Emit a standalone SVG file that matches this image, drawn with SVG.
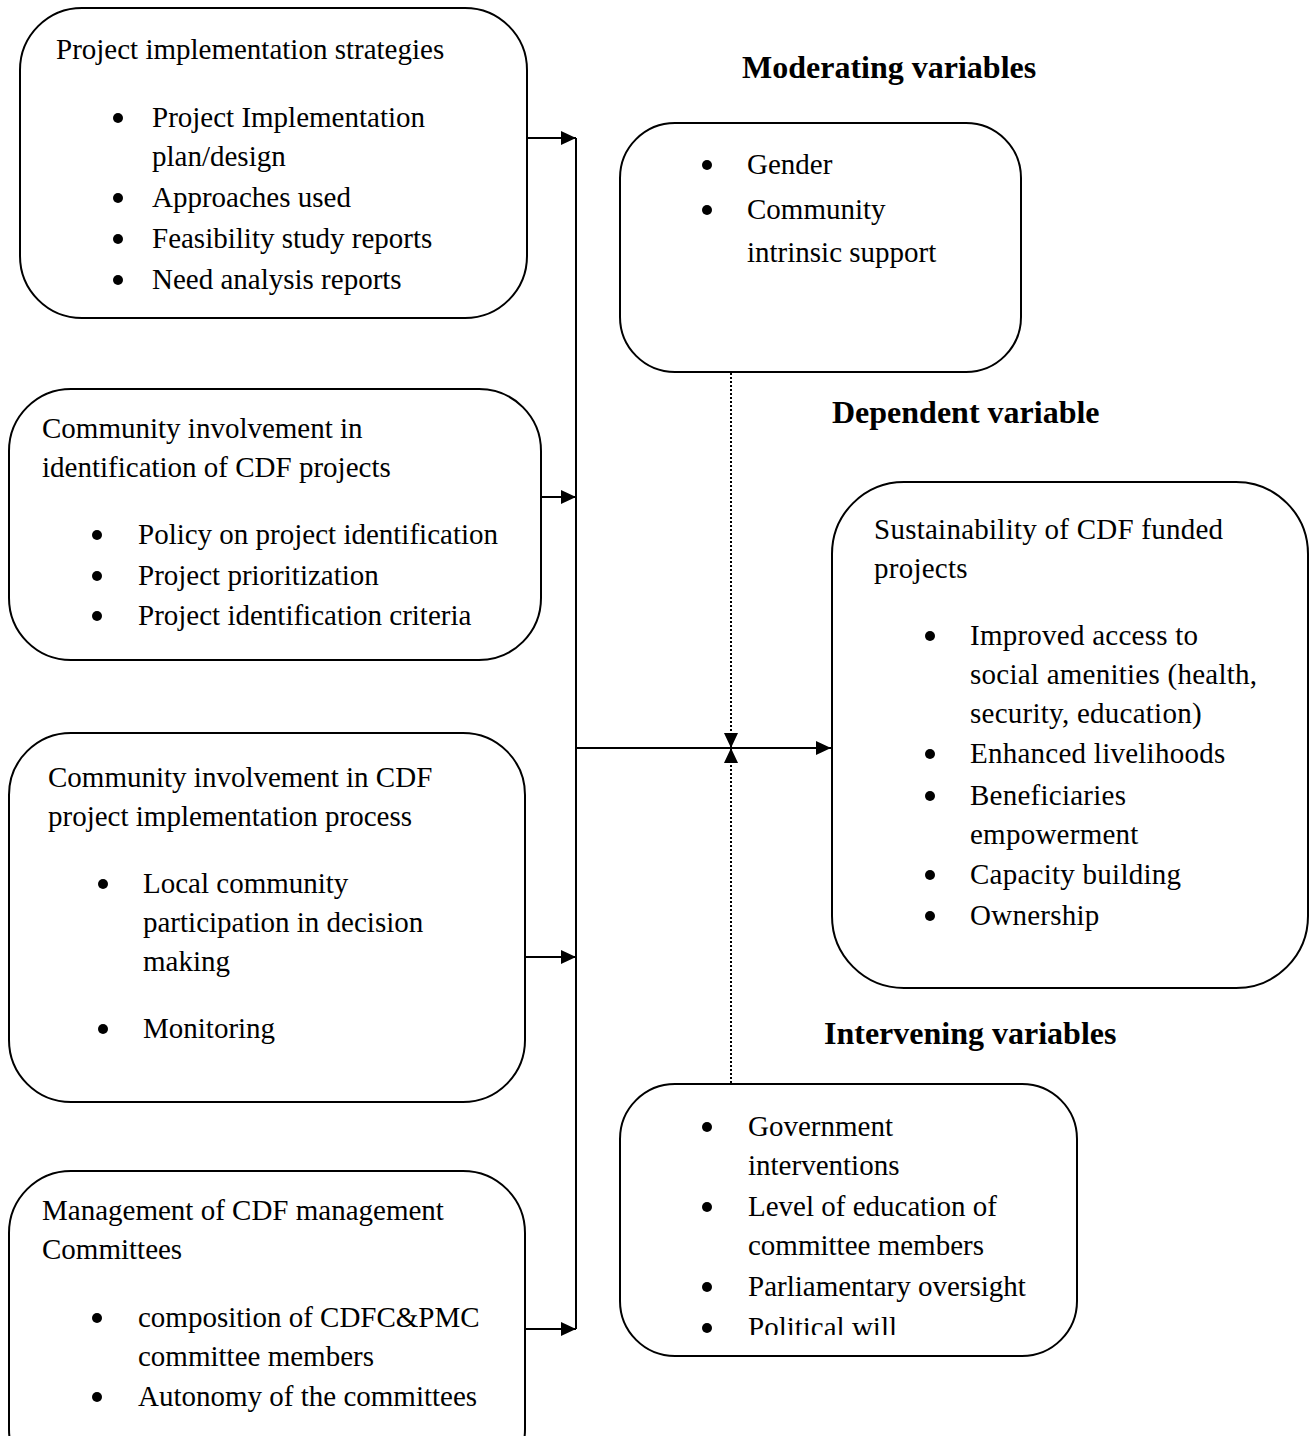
<svg xmlns="http://www.w3.org/2000/svg" width="1311" height="1436" viewBox="0 0 1311 1436">
<style>
.box{fill:#fff;stroke:#000;stroke-width:2}
text{font-family:"Liberation Serif","Times New Roman",serif;font-size:29px;fill:#000}
.h{font-weight:bold;font-size:32px}
.dep{letter-spacing:0.25px}
.ln{stroke:#000;stroke-width:2;fill:none}
.dot{stroke:#000;stroke-width:2;stroke-dasharray:2 2;fill:none}
.b{fill:#000}
</style>
<defs>
<marker id="ah" markerWidth="16" markerHeight="14" refX="15" refY="7" orient="auto" markerUnits="userSpaceOnUse">
<path d="M0,0 L15,7 L0,14 Z" fill="#000"/>
</marker>
<clipPath id="clipInt"><rect x="600" y="1080" width="500" height="255"/></clipPath>
</defs>
<rect width="1311" height="1436" fill="#fff"/>

<g id="connectors">
<line class="ln" x1="576" y1="138" x2="576" y2="1329"/>
<line class="ln" x1="527" y1="138" x2="576" y2="138" marker-end="url(#ah)"/>
<line class="ln" x1="541" y1="497" x2="576" y2="497" marker-end="url(#ah)"/>
<line class="ln" x1="525" y1="957" x2="576" y2="957" marker-end="url(#ah)"/>
<line class="ln" x1="525" y1="1329" x2="576" y2="1329" marker-end="url(#ah)"/>
<line class="ln" x1="576" y1="748" x2="831" y2="748" marker-end="url(#ah)"/>
<line class="dot" x1="731" y1="373" x2="731" y2="748" marker-end="url(#ah)"/>
<line class="dot" x1="731" y1="1083" x2="731" y2="748" marker-end="url(#ah)"/>
</g>

<g id="node-strategies">
<rect class="box" x="20" y="8" width="507" height="310" rx="62"/>
<text x="56" y="59">Project implementation strategies</text>
<circle class="b" cx="118" cy="118" r="5"/><text x="152" y="127">Project Implementation</text>
<text x="152" y="166">plan/design</text>
<circle class="b" cx="118" cy="198" r="5"/><text x="152" y="207">Approaches used</text>
<circle class="b" cx="118" cy="239" r="5"/><text x="152" y="248">Feasibility study reports</text>
<circle class="b" cx="118" cy="280" r="5"/><text x="152" y="289">Need analysis reports</text>
</g>

<g id="node-identification">
<rect class="box" x="9" y="389" width="532" height="271" rx="62"/>
<text x="42" y="438">Community involvement in</text>
<text x="42" y="477">identification of CDF projects</text>
<circle class="b" cx="97" cy="535" r="5"/><text x="138" y="544">Policy on project identification</text>
<circle class="b" cx="97" cy="576" r="5"/><text x="138" y="585">Project prioritization</text>
<circle class="b" cx="97" cy="616" r="5"/><text x="138" y="625">Project identification criteria</text>
</g>

<g id="node-implementation">
<rect class="box" x="9" y="733" width="516" height="369" rx="62"/>
<text x="48" y="787">Community involvement in CDF</text>
<text x="48" y="826">project implementation process</text>
<circle class="b" cx="103" cy="884" r="5"/><text x="143" y="893">Local community</text>
<text x="143" y="932">participation in decision</text>
<text x="143" y="971">making</text>
<circle class="b" cx="103" cy="1029" r="5"/><text x="143" y="1038">Monitoring</text>
</g>

<g id="node-committees">
<rect class="box" x="9" y="1171" width="516" height="320" rx="62"/>
<text x="42" y="1220">Management of CDF management</text>
<text x="42" y="1259">Committees</text>
<circle class="b" cx="97" cy="1318" r="5"/><text x="138" y="1327">composition of CDFC&amp;PMC</text>
<text x="138" y="1366">committee members</text>
<circle class="b" cx="97" cy="1397" r="5"/><text x="138" y="1406">Autonomy of the committees</text>
</g>

<g id="node-moderating">
<text class="h" x="742" y="78">Moderating variables</text>
<rect class="box" x="620" y="123" width="401" height="249" rx="55"/>
<circle class="b" cx="707" cy="165" r="5"/><text x="747" y="174">Gender</text>
<circle class="b" cx="707" cy="210" r="5"/><text x="747" y="219">Community</text>
<text x="747" y="262">intrinsic support</text>
</g>

<g id="node-dependent">
<text class="h" x="832" y="423">Dependent variable</text>
<rect class="box" x="832" y="482" width="476" height="506" rx="72"/>
<text class="dep" x="874" y="539">Sustainability of CDF funded</text>
<text class="dep" x="874" y="578">projects</text>
<circle class="b" cx="930" cy="636" r="5"/><text class="dep" x="970" y="645">Improved access to</text>
<text class="dep" x="970" y="684">social amenities (health,</text>
<text class="dep" x="970" y="723">security, education)</text>
<circle class="b" cx="930" cy="754" r="5"/><text class="dep" x="970" y="763">Enhanced livelihoods</text>
<circle class="b" cx="930" cy="796" r="5"/><text class="dep" x="970" y="805">Beneficiaries</text>
<text class="dep" x="970" y="844">empowerment</text>
<circle class="b" cx="930" cy="875" r="5"/><text class="dep" x="970" y="884">Capacity building</text>
<circle class="b" cx="930" cy="916" r="5"/><text class="dep" x="970" y="925">Ownership</text>
</g>

<g id="node-intervening">
<text class="h" x="824" y="1044">Intervening variables</text>
<rect class="box" x="620" y="1084" width="457" height="272" rx="55"/>
<g clip-path="url(#clipInt)">
<circle class="b" cx="707" cy="1127" r="5"/><text x="748" y="1136">Government</text>
<text x="748" y="1175">interventions</text>
<circle class="b" cx="707" cy="1207" r="5"/><text x="748" y="1216">Level of education of</text>
<text x="748" y="1255">committee members</text>
<circle class="b" cx="707" cy="1287" r="5"/><text x="748" y="1296">Parliamentary oversight</text>
<circle class="b" cx="707" cy="1328" r="5"/><text x="748" y="1337">Political will</text>
</g>
</g>
</svg>
